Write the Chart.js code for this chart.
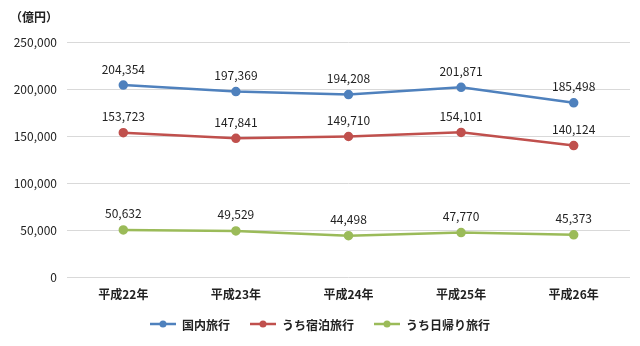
<!DOCTYPE html>
<html>
<head>
<meta charset="utf-8">
<script src="https://cdn.jsdelivr.net/npm/chart.js@4"></script>
<style>
  html, body { margin: 0; padding: 0; background: #fff; }
  #wrap { width: 640px; height: 346px; position: relative; }
</style>
</head>
<body>
<div id="wrap"><canvas id="chart"></canvas></div>
<script>
// data
const years = ['平成22年', '平成23年', '平成24年', '平成25年', '平成26年'];
const domestic = [204354, 197369, 194208, 201871, 185498];
const overnight = [153723, 147841, 149710, 154101, 140124];
const dayTrip = [50632, 49529, 44498, 47770, 45373];
const yTicks = [0, 50000, 100000, 150000, 200000, 250000];

const FONT = '"Noto Sans CJK JP", "Noto Sans", sans-serif';

// value labels above the points, unit label, and an Excel-style legend
const labelPlugin = {
  id: 'labels',
  afterDatasetsDraw(chart) {
    const ctx = chart.ctx;
    const sets = chart.data.datasets;
    ctx.save();
    ctx.font = '12px ' + FONT;
    ctx.fillStyle = '#222';
    ctx.textAlign = 'center';
    ctx.textBaseline = 'bottom';
    sets.forEach((ds, i) => {
      chart.getDatasetMeta(i).data.forEach((pt, j) => {
        ctx.fillText(ds.data[j].toLocaleString('en-US'), pt.x, pt.y - 10);
      });
    });

    ctx.font = 'bold 12px ' + FONT;
    ctx.textAlign = 'left';
    ctx.textBaseline = 'middle';
    ctx.fillText('（億円）', 10, 17);

    // legend
    const markW = 26, gap = 6, itemGap = 20, y = 324;
    const widths = sets.map(ds => markW + gap + ctx.measureText(ds.label).width);
    const total = widths.reduce((a, b) => a + b, 0) + itemGap * (sets.length - 1);
    let x = chart.width / 2 - total / 2;
    sets.forEach((ds, i) => {
      ctx.strokeStyle = ds.borderColor;
      ctx.fillStyle = ds.borderColor;
      ctx.lineWidth = 2.5;
      ctx.beginPath(); ctx.moveTo(x, y); ctx.lineTo(x + markW, y); ctx.stroke();
      ctx.beginPath(); ctx.arc(x + markW / 2, y, 3.5, 0, Math.PI * 2); ctx.fill();
      ctx.fillStyle = '#222';
      ctx.fillText(ds.label, x + markW + gap, y + 1);
      x += widths[i] + itemGap;
    });
    ctx.restore();
  }
};

new Chart(document.getElementById('chart'), {
  type: 'line',
  data: {
    labels: years,
    datasets: [
      { label: '国内旅行', data: domestic, borderColor: '#4F81BD', backgroundColor: '#4F81BD' },
      { label: 'うち宿泊旅行', data: overnight, borderColor: '#C0504D', backgroundColor: '#C0504D' },
      { label: 'うち日帰り旅行', data: dayTrip, borderColor: '#9BBB59', backgroundColor: '#9BBB59' }
    ].map(d => Object.assign(d, { borderWidth: 2.5, pointRadius: 3.5, pointHoverRadius: 3.5, tension: 0 }))
  },
  options: {
    responsive: true,
    maintainAspectRatio: false,
    animation: false,
    layout: { padding: { top: 42, right: 10, left: 0, bottom: 34 } },
    plugins: {
      legend: { display: false },
      tooltip: { enabled: false }
    },
    scales: {
      x: {
        offset: true,
        grid: { display: false, drawTicks: false },
        border: { display: false },
        ticks: { font: { family: FONT, size: 12, weight: 'bold' }, color: '#222', padding: 10 }
      },
      y: {
        min: 0,
        max: 250000,
        afterBuildTicks(axis) { axis.ticks = yTicks.map(v => ({ value: v })); },
        afterFit(axis) { axis.width = 67; },
        grid: { color: '#d9d9d9', drawTicks: false },
        border: { display: false },
        ticks: {
          font: { family: FONT, size: 12 },
          color: '#222',
          padding: 10,
          callback: v => v.toLocaleString('en-US')
        }
      }
    }
  },
  plugins: [labelPlugin]
});
</script>
</body>
</html>
